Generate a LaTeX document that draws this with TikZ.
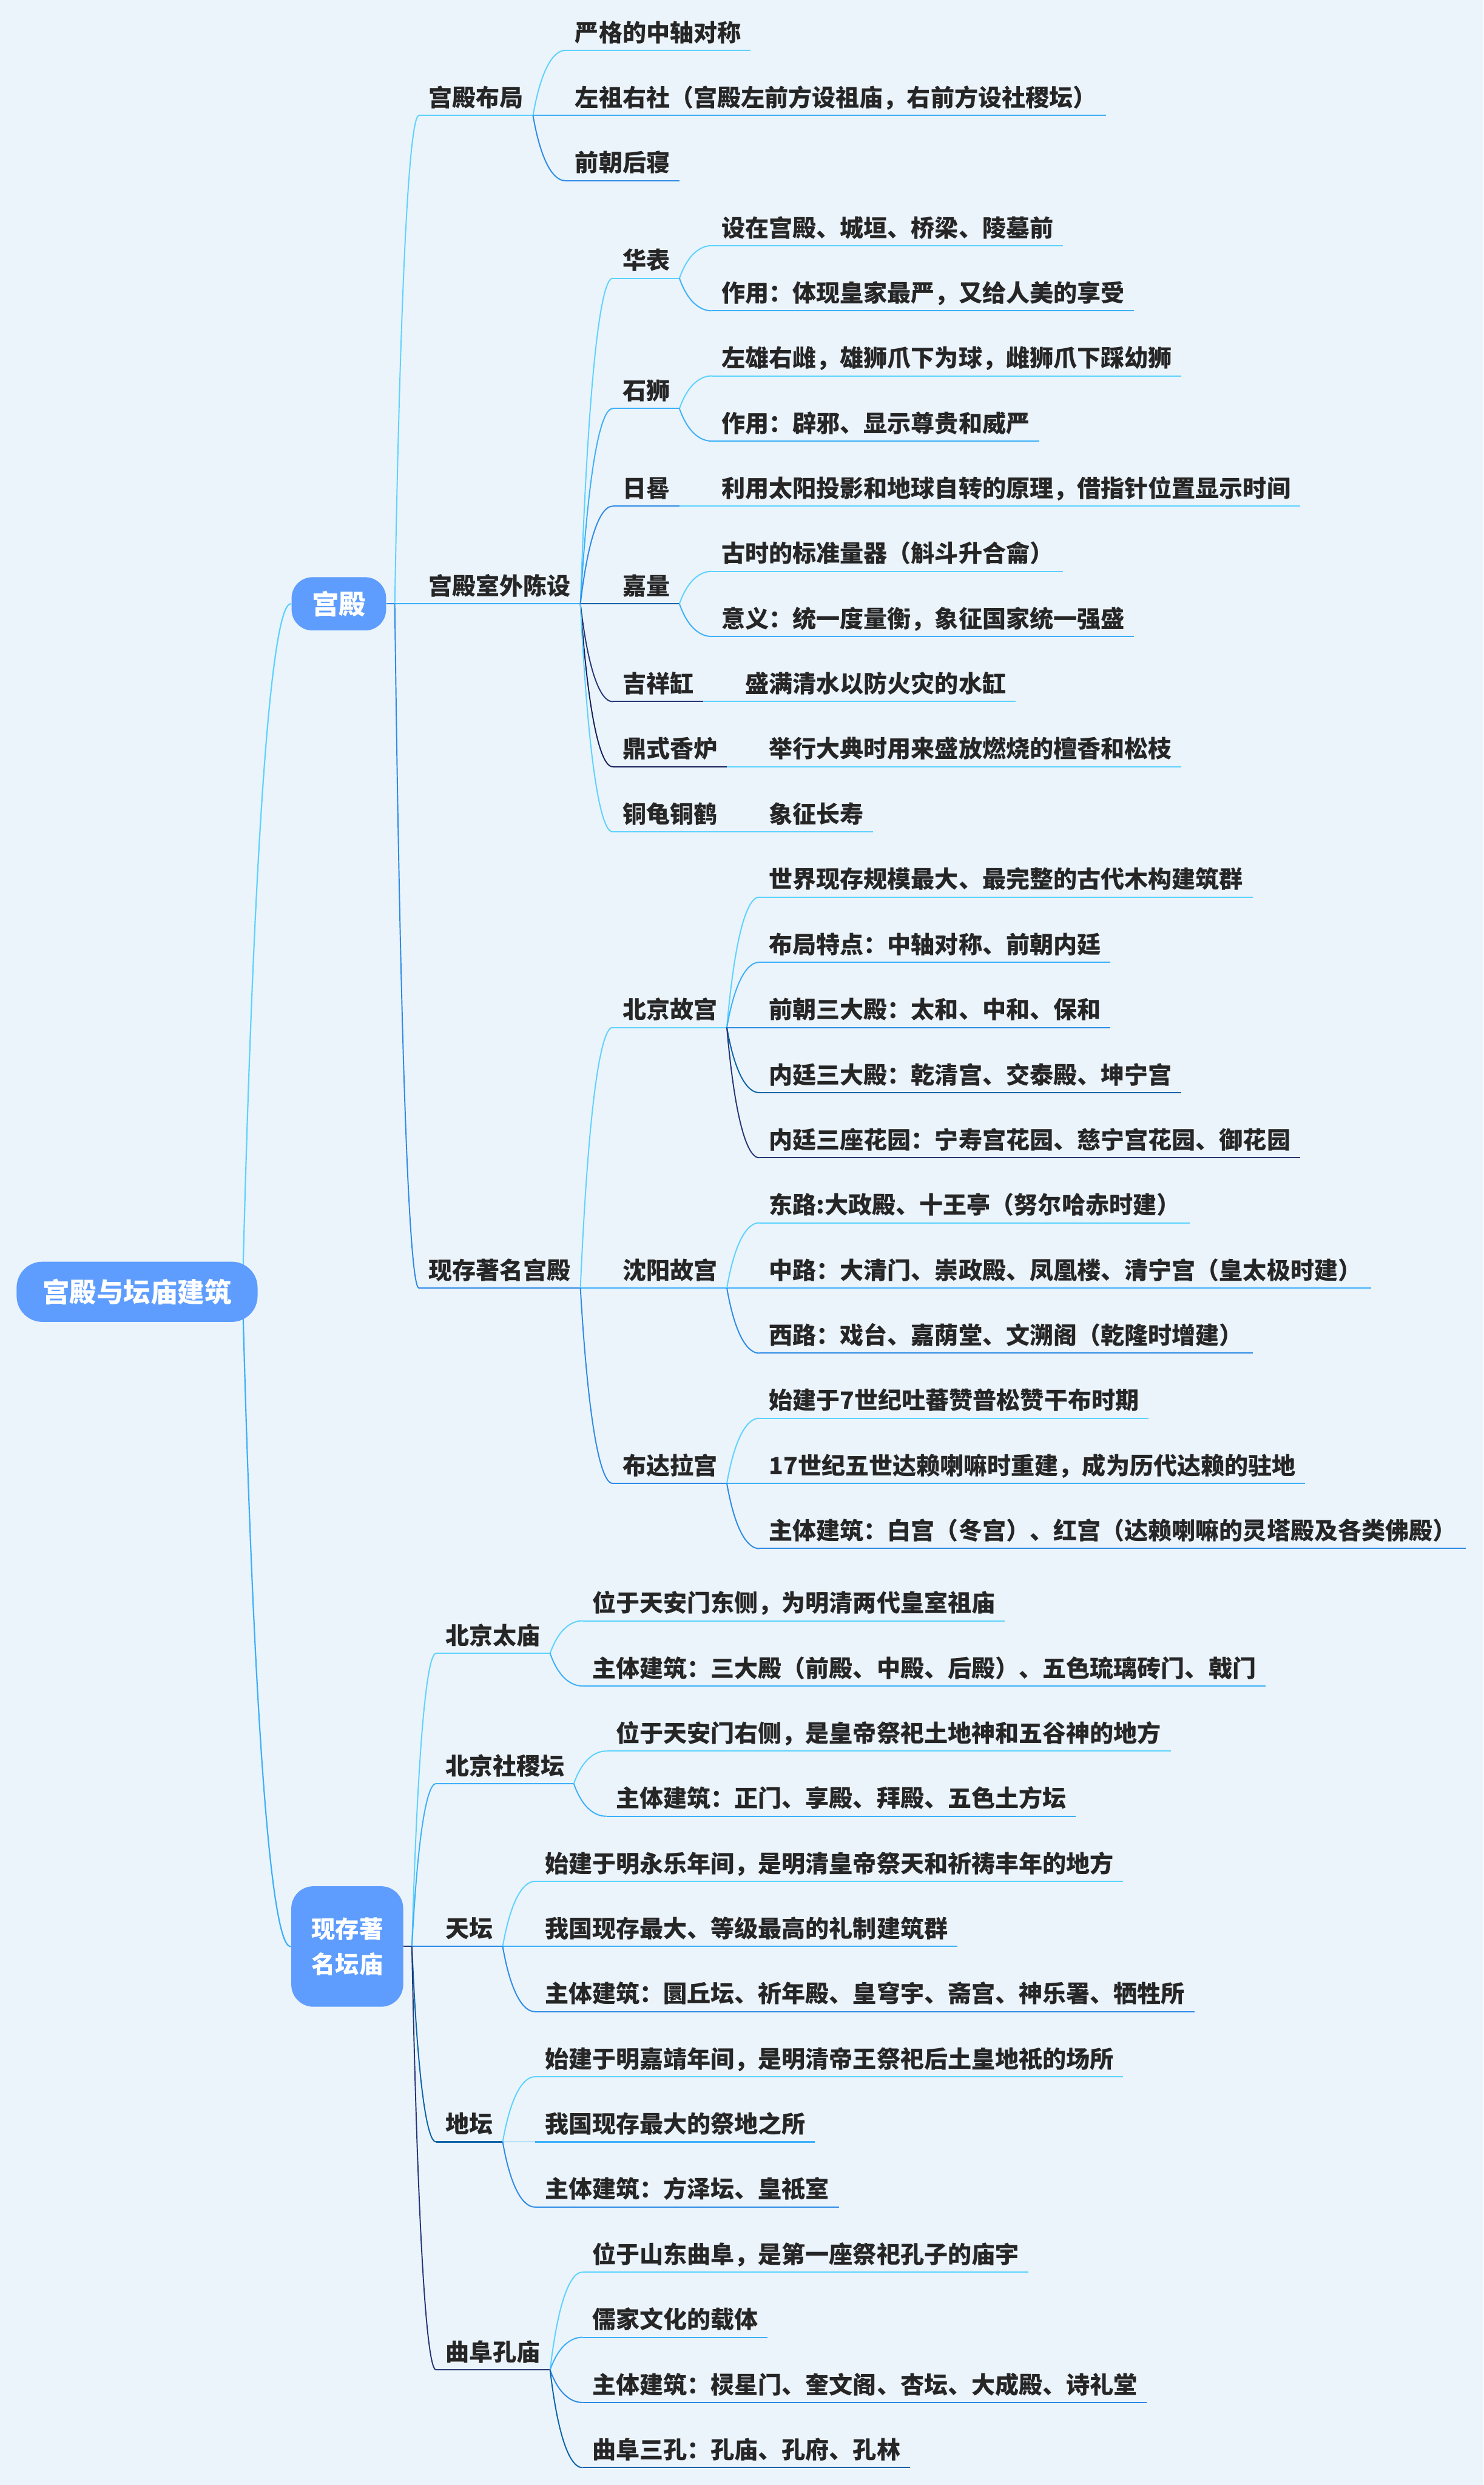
\documentclass[tikz,border=0pt]{standalone}
\usepackage{fontspec}
\usetikzlibrary{calc}
\newfontfamily\cjk{Noto Sans CJK SC}
\definecolor{bg}{HTML}{EBF3FB}
\definecolor{pillc}{HTML}{5E9DFE}
\definecolor{txt}{HTML}{262626}
\definecolor{c1}{HTML}{5BD3FE}
\definecolor{c2}{HTML}{3BB0F9}
\definecolor{c3}{HTML}{2C8BE6}
\definecolor{c4}{HTML}{0864A8}
\definecolor{c5}{HTML}{253777}
\definecolor{c6}{HTML}{17215A}
\newcommand\leaffont{\cjk\bfseries\fontsize{16.17pt}{19pt}\selectfont}
\newcommand\bigfont{\cjk\bfseries\fontsize{18.4pt}{22pt}\selectfont}
\newcommand\midfont{\cjk\bfseries\fontsize{16.3pt}{23.9pt}\selectfont}
\tikzset{
  lbl/.style={font=\leaffont, text=txt, inner sep=0pt, anchor=base west},
  uline/.style={line width=0.85pt},
  conn/.style={line width=0.8pt},
  rootconn/.style={line width=0.9pt},
  pill/.style={fill=pillc, text=white, inner sep=0pt, align=center},
}
\newcommand\cn[4][conn]{\draw[#1,#4] let \p1=(#2), \p2=(#3) in (\p1) .. controls ({\x1+0.35*(\x2-\x1)},\y2) and ({\x1+0.88*(\x2-\x1)},\y2) .. (\p2);}
\newcommand\nd[6][20.6]{%
  \path (#3R |- 0,#4) ++(#1,0) coordinate (#2L);
  \node[lbl] (#2) at ([shift={(5.8,-5.7)}]#2L) {#6};
  \path (#2.base east) ++(5.8,0) coordinate (#2RR);
  \coordinate (#2R) at (#2RR |- #2L);
  \draw[uline,#5] (#2L) -- (#2R);
  \cn{#3R}{#2L}{#5}%
}
\begin{document}
\begin{tikzpicture}[x=0.038cm,y=-0.038cm]
\useasboundingbox (0,0) rectangle (936,1568);
\fill[bg] (0,0) rectangle (936,1568);

% main pills
\node[pill, font=\bigfont, minimum width=2.265cm, minimum height=1.277cm, rounded corners=0.5cm] (gd) at (213.8,381.0) {宫殿};
\node[pill, font=\midfont, minimum width=2.683cm, minimum height=2.888cm, rounded corners=0.53cm] (tm) at (219.1,1228.2) {现存著\\名坛庙};

% root connectors and root
\coordinate (rootR) at (153,815.1);
\cn[rootconn]{rootR}{gd.west}{c1}
\cn[rootconn]{rootR}{tm.west}{c2}
\node[pill, font=\bigfont, minimum width=5.776cm, minimum height=1.444cm, rounded corners=0.62cm] (root) at (86.5,815.1) {宫殿与坛庙建筑};

% anchors of pills
\path (gd.east) ++(5.3,0) coordinate (gdR);
\path (tm.east) ++(5.3,0) coordinate (tmR);
\draw[uline,c3] (gd.east) -- (gdR);
\draw[uline,c5] (tm.east) -- (tmR);

% ===== 宫殿 =====
\nd[15.4]{bj}{gd}{72.9}{c1}{宫殿布局}
\nd[15.4]{sw}{gd}{381.0}{c2}{宫殿室外陈设}
\nd[15.4]{xg}{gd}{812.7}{c3}{现存著名宫殿}

\nd{aa}{bj}{31.8}{c1}{严格的中轴对称}
\nd{ab}{bj}{72.9}{c2}{左祖右社（宫殿左前方设祖庙，右前方设社稷坛）}
\nd{ac}{bj}{114.0}{c3}{前朝后寝}

\nd{hb}{sw}{175.6}{c1}{华表}
\nd{ss}{sw}{257.8}{c2}{石狮}
\nd{rg}{sw}{319.4}{c3}{日晷}
\nd{jl}{sw}{381.0}{c4}{嘉量}
\nd{jx}{sw}{442.7}{c5}{吉祥缸}
\nd{dx}{sw}{483.8}{c6}{鼎式香炉}
\nd{tg}{sw}{524.9}{c1}{铜龟铜鹤}

\nd{hba}{hb}{155.0}{c1}{设在宫殿、城垣、桥梁、陵墓前}
\nd{hbb}{hb}{196.1}{c2}{作用：体现皇家最严，又给人美的享受}
\nd{ssa}{ss}{237.2}{c1}{左雄右雌，雄狮爪下为球，雌狮爪下踩幼狮}
\nd{ssb}{ss}{278.3}{c2}{作用：辟邪、显示尊贵和威严}
\nd{rga}{rg}{319.4}{c1}{利用太阳投影和地球自转的原理，借指针位置显示时间}
\nd{jla}{jl}{360.5}{c1}{古时的标准量器（斛斗升合龠）}
\nd{jlb}{jl}{401.6}{c2}{意义：统一度量衡，象征国家统一强盛}
\nd{jxa}{jx}{442.7}{c1}{盛满清水以防火灾的水缸}
\nd{dxa}{dx}{483.8}{c1}{举行大典时用来盛放燃烧的檀香和松枝}
\nd{tga}{tg}{524.9}{c1}{象征长寿}

\nd{gg}{xg}{648.3}{c1}{北京故宫}
\nd{sy}{xg}{812.7}{c2}{沈阳故宫}
\nd{bd}{xg}{936.0}{c3}{布达拉宫}

\nd{gga}{gg}{566.1}{c1}{世界现存规模最大、最完整的古代木构建筑群}
\nd{ggb}{gg}{607.2}{c2}{布局特点：中轴对称、前朝内廷}
\nd{ggc}{gg}{648.3}{c3}{前朝三大殿：太和、中和、保和}
\nd{ggd}{gg}{689.4}{c4}{内廷三大殿：乾清宫、交泰殿、坤宁宫}
\nd{gge}{gg}{730.5}{c5}{内廷三座花园：宁寿宫花园、慈宁宫花园、御花园}

\nd{sya}{sy}{771.6}{c1}{东路:大政殿、十王亭（努尔哈赤时建）}
\nd{syb}{sy}{812.7}{c2}{中路：大清门、崇政殿、凤凰楼、清宁宫（皇太极时建）}
\nd{syc}{sy}{853.8}{c3}{西路：戏台、嘉荫堂、文溯阁（乾隆时增建）}

\nd{bda}{bd}{894.9}{c1}{始建于7世纪吐蕃赞普松赞干布时期}
\nd{bdb}{bd}{936.0}{c2}{17世纪五世达赖喇嘛时重建，成为历代达赖的驻地}
\nd{bdc}{bd}{977.1}{c3}{主体建筑：白宫（冬宫）、红宫（达赖喇嘛的灵塔殿及各类佛殿）}

% ===== 现存著名坛庙 =====
\nd[15.4]{ty}{tm}{1043.25}{c1}{北京太庙}
\nd[15.4]{sj}{tm}{1125.45}{c2}{北京社稷坛}
\nd[15.4]{tt}{tm}{1228.2}{c3}{天坛}
\nd[15.4]{dt}{tm}{1351.5}{c4}{地坛}
\nd[15.4]{kl}{tm}{1495.35}{c5}{曲阜孔庙}

\nd{tya}{ty}{1022.7}{c1}{位于天安门东侧，为明清两代皇室祖庙}
\nd{tyb}{ty}{1063.8}{c2}{主体建筑：三大殿（前殿、中殿、后殿）、五色琉璃砖门、戟门}

\nd{sja}{sj}{1104.9}{c1}{位于天安门右侧，是皇帝祭祀土地神和五谷神的地方}
\nd{sjb}{sj}{1146.0}{c2}{主体建筑：正门、享殿、拜殿、五色土方坛}

\nd{tta}{tt}{1187.1}{c1}{始建于明永乐年间，是明清皇帝祭天和祈祷丰年的地方}
\nd{ttb}{tt}{1228.2}{c2}{我国现存最大、等级最高的礼制建筑群}
\nd{ttc}{tt}{1269.3}{c3}{主体建筑：圜丘坛、祈年殿、皇穹宇、斋宫、神乐署、牺牲所}

\nd{dta}{dt}{1310.4}{c1}{始建于明嘉靖年间，是明清帝王祭祀后土皇地祇的场所}
\nd{dtb}{dt}{1351.5}{c2}{我国现存最大的祭地之所}
\nd{dtc}{dt}{1392.6}{c3}{主体建筑：方泽坛、皇祇室}

\nd{kla}{kl}{1433.7}{c1}{位于山东曲阜，是第一座祭祀孔子的庙宇}
\nd{klb}{kl}{1474.8}{c2}{儒家文化的载体}
\nd{klc}{kl}{1515.9}{c3}{主体建筑：棂星门、奎文阁、杏坛、大成殿、诗礼堂}
\nd{kld}{kl}{1557.0}{c4}{曲阜三孔：孔庙、孔府、孔林}
\end{tikzpicture}
\end{document}
